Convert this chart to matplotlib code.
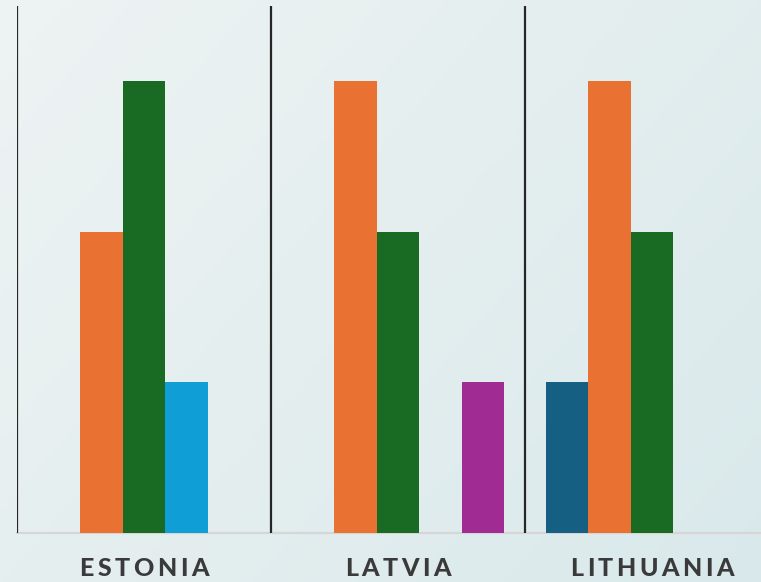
import numpy as np
import matplotlib
matplotlib.use('Agg')
import matplotlib.pyplot as plt
from matplotlib.colors import LinearSegmentedColormap

# data
countries = ['ESTONIA', 'LATVIA', 'LITHUANIA']
series_colors = ['#156082', '#E97132', '#196B24', '#0F9ED5', '#A02B93']
# one list per series, values per country (0 = no bar)
s_darkblue = [0, 0, 1]
s_orange = [2, 3, 3]
s_green = [3, 2, 2]
s_lightblue = [1, 0, 0]
s_purple = [0, 1, 0]
series = [s_darkblue, s_orange, s_green, s_lightblue, s_purple]

W, H = 761, 582
fig = plt.figure(figsize=(W / 100, H / 100), dpi=100)

# soft background gradient
bg = fig.add_axes([0, 0, 1, 1], zorder=-10)
bg.axis('off')
xx, yy = np.meshgrid(np.linspace(0, 1, 200), np.linspace(0, 1, 200))
grad = 0.6 * xx + 0.4 * yy
cmap_bg = LinearSegmentedColormap.from_list('bg', ['#EEF3F3', '#E4EEEF', '#D9E9EB'])
bg.imshow(grad, cmap=cmap_bg, aspect='auto', extent=[0, 1, 0, 1], origin='upper')
bg.set_xlim(0, 1)
bg.set_ylim(0, 1)

# main axes, runs past the right edge of the picture
ax_left = 17 / W
ax_bottom = (H - 533) / H
ax_w = 762 / W
ax_h = (533 - 6) / H
ax = fig.add_axes([ax_left, ax_bottom, ax_w, ax_h])
ax.patch.set_alpha(0)

x = np.arange(len(countries))
width = 42.5 / 254
for i, (vals, col) in enumerate(zip(series, series_colors)):
    ax.bar(x + (i - 2) * width, vals, width=width, color=col, linewidth=0, zorder=3)

ax.set_xlim(-0.5, 2.5)
ax.set_ylim(0, 3.5)
for sep in [-0.5, 0.5, 1.5]:
    ax.axvline(sep, color='#262626', lw=1.6, zorder=4)

for s in ['top', 'right', 'left']:
    ax.spines[s].set_visible(False)
ax.spines['bottom'].set_color('#D6D6D6')
ax.spines['bottom'].set_linewidth(1.6)
ax.set_xticks([])
ax.set_yticks([])

# letter-spaced group labels
renderer = fig.canvas.get_renderer()
font = dict(family='Lato', weight='black', size=18, color='#3A3A3A')
tracking = 3.5  # px between letters
y_lab = (H - 569) / H
for xi, name in zip(x, countries):
    widths = []
    for ch in name:
        t = fig.text(0, 0, ch, **font)
        widths.append(t.get_window_extent(renderer).width)
        t.remove()
    total = sum(widths) + tracking * (len(name) - 1)
    cx = ax.transData.transform((xi, 0))[0]
    pos = cx - total / 2
    for ch, w in zip(name, widths):
        fig.text(pos / W, y_lab, ch, ha='left', va='center', **font)
        pos += w + tracking

fig.savefig('out.png', dpi=100)
